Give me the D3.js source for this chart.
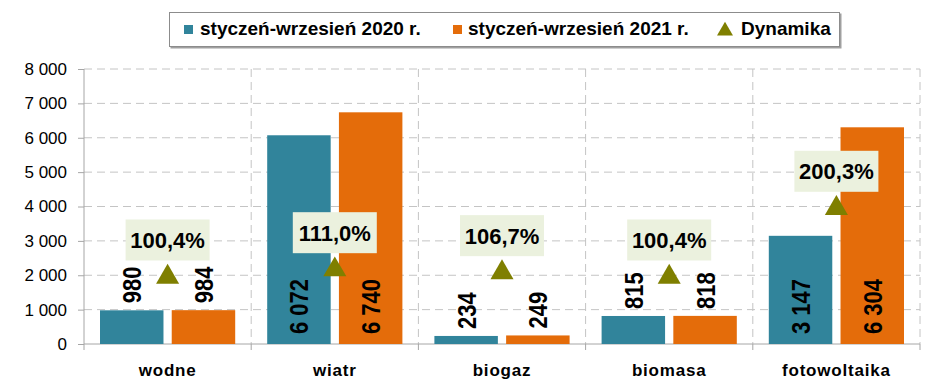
<!DOCTYPE html>
<html>
<head>
<meta charset="utf-8">
<script src="https://d3js.org/d3.v7.min.js"></script>
<style>
  body { margin: 0; background: #fff; }
  svg { display: block; font-family: "Liberation Sans", Arial, sans-serif; }
</style>
</head>
<body>
<div id="chart"></div>
<script>
// Data
const categories = ['wodne', 'wiatr', 'biogaz', 'biomasa', 'fotowoltaika'];
const seriesNames = ['styczeń-wrzesień 2020 r.', 'styczeń-wrzesień 2021 r.'];
const values2020 = [980, 6072, 234, 815, 3147];
const values2021 = [984, 6740, 249, 818, 6304];
const dynamika = [100.4, 111.0, 106.7, 100.4, 200.3];
const dynamikaName = 'Dynamika';
const yTicks = [0, 1000, 2000, 3000, 4000, 5000, 6000, 7000, 8000];

const width = 948, height = 388;
const margin = { top: 69, right: 28, bottom: 44, left: 84 };
const innerW = width - margin.left - margin.right;
const innerH = height - margin.top - margin.bottom;

const colors = ['#31849B', '#E46C0A'];
const triColor = '#7F7F00';
const gridColor = '#C4C4C4';
const axisColor = '#A6A6A6';

const locale = d3.formatLocale({ decimal: ',', thousands: ' ', grouping: [3], currency: ['', ''] });
const fmtNum = locale.format(',d');
const fmtPct = v => locale.format('.1f')(v) + '%';

const svg = d3.select('#chart').append('svg')
    .attr('width', width)
    .attr('height', height);

const g = svg.append('g')
    .attr('transform', `translate(${margin.left},${margin.top})`);

// Scales
const x0 = d3.scaleBand().domain(categories).range([0, innerW]).padding(0);
const x1 = d3.scaleBand().domain(seriesNames)
    .range([16, x0.bandwidth() - 16]).paddingInner(0.115);
const y = d3.scaleLinear().domain([0, 8000]).range([innerH, 0]);
const y2 = d3.scaleLinear().domain([0, 400]).range([innerH, 0]);

// Horizontal gridlines
g.selectAll('.hgrid')
    .data(yTicks.filter(d => d > 0))
    .enter().append('line')
    .attr('x1', 0).attr('x2', innerW)
    .attr('y1', d => y(d)).attr('y2', d => y(d))
    .attr('stroke', gridColor)
    .attr('stroke-dasharray', '8,5');

// Vertical gridlines at category boundaries
const bounds = categories.map(c => x0(c) + x0.bandwidth());
g.selectAll('.vgrid')
    .data(bounds)
    .enter().append('line')
    .attr('x1', d => d).attr('x2', d => d)
    .attr('y1', 0).attr('y2', innerH)
    .attr('stroke', gridColor)
    .attr('stroke-dasharray', '8,5');

// Y axis
const yAxis = g.append('g')
    .call(d3.axisLeft(y).tickValues(yTicks).tickSize(6).tickPadding(11).tickFormat(fmtNum));
yAxis.select('.domain').remove();
yAxis.selectAll('.tick line').attr('stroke', axisColor);
yAxis.selectAll('text')
    .attr('fill', '#000')
    .attr('font-size', '17px')
    .attr('font-family', '"Liberation Sans", Arial, sans-serif');
g.append('line')
    .attr('x1', 0).attr('x2', 0)
    .attr('y1', 0).attr('y2', innerH + 6)
    .attr('stroke', axisColor);

// X axis with ticks on category boundaries
g.append('line')
    .attr('x1', 0).attr('x2', innerW)
    .attr('y1', innerH).attr('y2', innerH)
    .attr('stroke', axisColor);
g.selectAll('.xtick')
    .data(bounds)
    .enter().append('line')
    .attr('x1', d => d).attr('x2', d => d)
    .attr('y1', innerH).attr('y2', innerH + 6)
    .attr('stroke', axisColor);
g.selectAll('.xlabel')
    .data(categories)
    .enter().append('text')
    .attr('x', d => x0(d) + x0.bandwidth() / 2)
    .attr('y', innerH + 32)
    .attr('text-anchor', 'middle')
    .attr('font-size', '17px')
    .attr('font-weight', 'bold')
    .attr('letter-spacing', '0.8px')
    .text(d => d);

// Bars
const rows = categories.map((c, i) => ({
    cat: c,
    vals: [values2020[i], values2021[i]]
}));

const groups = g.selectAll('.grp')
    .data(rows)
    .enter().append('g')
    .attr('transform', d => `translate(${x0(d.cat)},0)`);

groups.selectAll('rect')
    .data(d => d.vals.map((v, j) => ({ s: seriesNames[j], v, j })))
    .enter().append('rect')
    .attr('x', d => x1(d.s))
    .attr('y', d => y(d.v))
    .attr('width', x1.bandwidth())
    .attr('height', d => innerH - y(d.v))
    .attr('fill', d => colors[d.j]);

// Bar value labels (rotated): above small bars, inside base of big ones
groups.selectAll('.vlabel')
    .data(d => d.vals.map((v, j) => ({ s: seriesNames[j], v, j })))
    .enter().append('text')
    .attr('transform', d => {
        const cx = x1(d.s) + x1.bandwidth() / 2;
        const yy = d.v > 2000 ? innerH - 10 : y(d.v) - 7;
        return `translate(${cx},${yy}) rotate(-90) scale(1,1.2)`;
    })
    .attr('dy', '0.36em')
    .attr('font-size', '22px')
    .attr('font-weight', 'bold')
    .attr('fill', '#000')
    .text(d => fmtNum(d.v));

// Dynamika markers on hidden secondary axis
const tri = d3.symbol().type(d3.symbolTriangle).size(230);
const cx = c => x0(c) + x0.bandwidth() / 2;

g.selectAll('.tri')
    .data(dynamika)
    .enter().append('path')
    .attr('d', tri)
    .attr('transform', (d, i) => `translate(${cx(categories[i])},${y2(d) + 2})`)
    .attr('fill', triColor);

const pctBoxes = g.selectAll('.pct')
    .data(dynamika)
    .enter().append('g')
    .attr('transform', (d, i) => `translate(${cx(categories[i])},${y2(d) - 35})`);
pctBoxes.append('rect')
    .attr('x', -42).attr('y', -20.5)
    .attr('width', 84).attr('height', 41)
    .attr('fill', '#EBF1DE');
pctBoxes.append('text')
    .attr('text-anchor', 'middle')
    .attr('dy', '0.36em')
    .attr('font-size', '22px')
    .attr('font-weight', 'bold')
    .attr('fill', '#000')
    .text(d => fmtPct(d));

// Legend
const legend = svg.append('g').attr('transform', 'translate(169,12)');
legend.append('rect')
    .attr('x', 1.5).attr('y', 1.5)
    .attr('width', 671).attr('height', 35)
    .attr('fill', '#A0A0A0');
legend.append('rect')
    .attr('x', 0.5).attr('y', 0.5)
    .attr('width', 670).attr('height', 34)
    .attr('fill', '#fff')
    .attr('stroke', '#8C8C8C');

const legItems = [
    { name: seriesNames[0], type: 'rect', color: colors[0], mx: 15, tx: 31 },
    { name: seriesNames[1], type: 'rect', color: colors[1], mx: 284, tx: 299 },
    { name: dynamikaName, type: 'tri', color: triColor, mx: 556, tx: 572 }
];
legItems.forEach(it => {
    if (it.type === 'rect') {
        legend.append('rect')
            .attr('x', it.mx).attr('y', 13)
            .attr('width', 9).attr('height', 9)
            .attr('fill', it.color);
    } else {
        legend.append('path')
            .attr('d', d3.symbol().type(d3.symbolTriangle).size(110)())
            .attr('transform', `translate(${it.mx},${19})`)
            .attr('fill', it.color);
    }
    legend.append('text')
        .attr('x', it.tx).attr('y', 23)
        .attr('font-size', '19px')
        .attr('font-weight', 'bold')
        .attr('fill', '#000')
        .text(it.name);
});
</script>
</body>
</html>
